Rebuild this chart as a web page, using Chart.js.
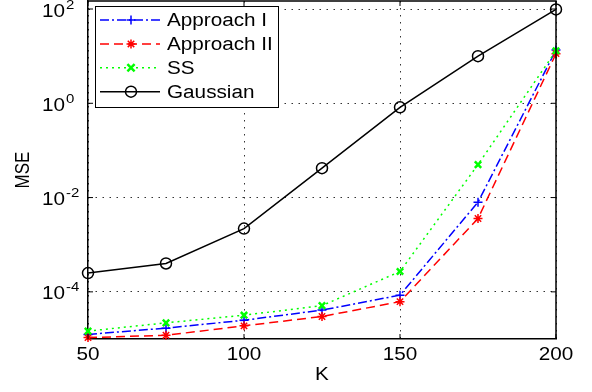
<!DOCTYPE html>
<html><head><meta charset="utf-8">
<script src="https://cdn.jsdelivr.net/npm/chart.js@4/dist/chart.umd.min.js"></script>
<style>html,body{margin:0;padding:0;background:#fff}</style>
</head><body>
<canvas id="c" width="592" height="392" style="display:block"></canvas>
<script>
// ---- data ----
const K = [50, 75, 100, 125, 150, 175, 200];
const approachI  = [1.25e-5, 1.7e-5, 2.5e-5, 4.1e-5, 8.5e-5, 8.0e-3, 13.5];
const approachII = [1.07e-5, 1.2e-5, 1.9e-5, 3.0e-5, 6.2e-5, 3.6e-3, 11.3];
const ss         = [1.47e-5, 2.2e-5, 3.2e-5, 5.1e-5, 2.7e-4, 5.0e-2, 13.0];
const gaussian   = [2.5e-4, 4.0e-4, 2.2e-3, 4.2e-2, 0.82, 10.0, 98.0];
const seriesLabels = ['Approach I', 'Approach II', 'SS', 'Gaussian'];
const xTicks = [50, 100, 150, 200];
const yTickExponents = [-4, -2, 0, 2];
const xTitle = 'K';
const yTitle = 'MSE';

// text is horizontally widened like the reference figure
const SX = 1.15;
const _fillText = CanvasRenderingContext2D.prototype.fillText;
CanvasRenderingContext2D.prototype.fillText = function (t, x, y) {
  const m = this.getTransform();
  this.save(); this.translate(x, y);
  if (Math.abs(m.b) > 1e-6 || Math.abs(m.c) > 1e-6) this.scale(1, SX); else this.scale(SX, 1);
  _fillText.call(this, t, 0, 0); this.restore();
};

const FONT = '"Liberation Sans", Arial, Helvetica, sans-serif';
Chart.defaults.font.family = FONT;
Chart.defaults.color = '#000';

const pts = arr => K.map((k, i) => ({ x: k, y: arr[i] }));

function drawMarker(ctx, style, x, y, r) {
  ctx.beginPath();
  if (style === 'cross') {
    ctx.moveTo(x - r, y); ctx.lineTo(x + r, y); ctx.moveTo(x, y - r); ctx.lineTo(x, y + r);
  } else if (style === 'crossRot') {
    const d = r * 0.8;
    ctx.moveTo(x - d, y - d); ctx.lineTo(x + d, y + d); ctx.moveTo(x - d, y + d); ctx.lineTo(x + d, y - d);
  } else if (style === 'star') {
    const d = r * 0.72;
    ctx.moveTo(x - r, y); ctx.lineTo(x + r, y); ctx.moveTo(x, y - r); ctx.lineTo(x, y + r);
    ctx.moveTo(x - d, y - d); ctx.lineTo(x + d, y + d); ctx.moveTo(x - d, y + d); ctx.lineTo(x + d, y - d);
  } else {
    ctx.arc(x, y, r, 0, Math.PI * 2);
  }
  ctx.stroke();
}

const decor = {
  id: 'decor',
  afterDatasetsDraw(chart) {
    const ctx = chart.ctx;
    const a = chart.chartArea;
    const xs = chart.scales.x, ys = chart.scales.y;
    ctx.save();
    // frame top/right
    ctx.strokeStyle = '#000'; ctx.lineWidth = 1.5; ctx.setLineDash([]);
    ctx.beginPath();
    ctx.moveTo(a.left, a.top); ctx.lineTo(a.right, a.top); ctx.lineTo(a.right, a.bottom);
    ctx.stroke();
    // inward tick marks
    ctx.lineWidth = 1;
    ctx.beginPath();
    xTicks.forEach(v => {
      const px = xs.getPixelForValue(v);
      ctx.moveTo(px, a.bottom); ctx.lineTo(px, a.bottom - 5);
      ctx.moveTo(px, a.top); ctx.lineTo(px, a.top + 5);
    });
    yTickExponents.forEach(e => {
      const py = ys.getPixelForValue(Math.pow(10, e));
      ctx.moveTo(a.left, py); ctx.lineTo(a.left + 5, py);
      ctx.moveTo(a.right, py); ctx.lineTo(a.right - 5, py);
    });
    ctx.stroke();

    // y tick labels 10^e
    ctx.fillStyle = '#000';
    yTickExponents.forEach(e => {
      const py = ys.getPixelForValue(Math.pow(10, e));
      ctx.font = '18px ' + FONT; ctx.textAlign = 'right'; ctx.textBaseline = 'alphabetic';
      ctx.fillText('10', 65, py + 7.5);
      ctx.font = '13px ' + FONT; ctx.textAlign = 'left';
      ctx.fillText(e < 0 ? '-' + (-e) : String(e), 66, py - 0.5);
    });

    // legend box
    const bx = 95, by = 6, bw = 183, bh = 101;
    ctx.fillStyle = '#fff'; ctx.fillRect(bx, by, bw, bh);
    ctx.strokeStyle = '#000'; ctx.lineWidth = 1; ctx.strokeRect(bx + 0.5, by + 0.5, bw, bh);
    chart.data.datasets.forEach((ds, i) => {
      const y = by + 14 + i * 23.9;
      ctx.strokeStyle = ds.borderColor; ctx.lineWidth = ds.borderWidth;
      ctx.setLineDash(ds.borderDash || []);
      ctx.beginPath(); ctx.moveTo(100, y); ctx.lineTo(160, y); ctx.stroke();
      ctx.setLineDash([]);
      ctx.lineWidth = ds.pointBorderWidth;
      drawMarker(ctx, ds.pointStyle, 131, y, ds.pointRadius);
      ctx.fillStyle = '#000'; ctx.font = '18px ' + FONT;
      ctx.textAlign = 'left'; ctx.textBaseline = 'middle';
      ctx.fillText(ds.label, 167, y + 1);
    });
    ctx.restore();
  }
};

new Chart(document.getElementById('c'), {
  type: 'line',
  data: {
    datasets: [
      { label: seriesLabels[0], data: pts(approachI), borderColor: '#0000ff', borderWidth: 1.5,
        borderDash: [9, 3, 2, 3], pointStyle: 'cross', pointRadius: 4.5, pointBorderWidth: 1.5,
        pointBorderColor: '#0000ff', pointBackgroundColor: 'rgba(0,0,0,0)', order: 3 },
      { label: seriesLabels[1], data: pts(approachII), borderColor: '#ff0000', borderWidth: 1.5,
        borderDash: [9, 5], pointStyle: 'star', pointRadius: 4.5, pointBorderWidth: 1.5,
        pointBorderColor: '#ff0000', pointBackgroundColor: 'rgba(0,0,0,0)', order: 2 },
      { label: seriesLabels[2], data: pts(ss), borderColor: '#00ff00', borderWidth: 1.5,
        borderDash: [2, 4], pointStyle: 'crossRot', pointRadius: 4.5, pointBorderWidth: 2.5,
        pointBorderColor: '#00ff00', pointBackgroundColor: 'rgba(0,0,0,0)', order: 1 },
      { label: seriesLabels[3], data: pts(gaussian), borderColor: '#000000', borderWidth: 1.5,
        pointStyle: 'circle', pointRadius: 5.5, pointBorderWidth: 1.5,
        pointBorderColor: '#000000', pointBackgroundColor: 'rgba(0,0,0,0)', order: 0 }
    ].map(d => Object.assign({ tension: 0, clip: false, fill: false }, d))
  },
  options: {
    responsive: false,
    animation: false,
    devicePixelRatio: 1,
    layout: { autoPadding: false, padding: { top: 1, right: 36, left: 0, bottom: 0 } },
    plugins: { legend: { display: false }, tooltip: { enabled: false } },
    scales: {
      x: {
        type: 'linear', min: 50, max: 200,
        afterBuildTicks: s => { s.ticks = xTicks.map(v => ({ value: v })); },
        afterFit: s => { s.height = 53; s.paddingLeft = 0; s.paddingRight = 0; },
        ticks: { font: { size: 18 }, color: '#000', padding: 5, maxRotation: 0 },
        grid: { color: '#333', lineWidth: 1, drawTicks: false },
        border: { display: true, color: '#000', width: 1.5, dash: [1.5, 5.5] },
        title: { display: true, text: xTitle, font: { size: 18 }, color: '#000', padding: { top: 0, bottom: 6 } }
      },
      y: {
        type: 'logarithmic', min: 1e-5, max: Math.pow(10, 2.17),
        afterBuildTicks: s => { s.ticks = yTickExponents.map(e => ({ value: Math.pow(10, e) })); },
        afterFit: s => { s.width = 88; s.paddingTop = 0; s.paddingBottom = 0; },
        ticks: { display: false },
        grid: { color: '#333', lineWidth: 1, drawTicks: false },
        border: { display: true, color: '#000', width: 1.5, dash: [1.5, 5.5] },
        title: { display: true, text: yTitle, font: { size: 17 }, color: '#000', padding: { top: 13, bottom: 0 } }
      }
    }
  },
  plugins: [decor]
});
</script>
</body></html>
